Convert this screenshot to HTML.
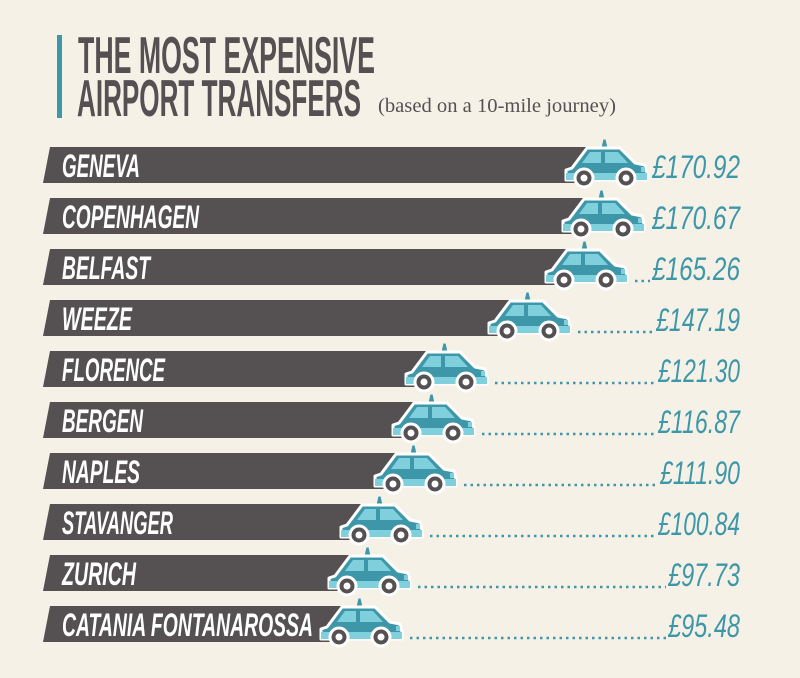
<!DOCTYPE html>
<html><head><meta charset="utf-8"><style>
html,body{margin:0;padding:0;background:#f5f1e7;}
svg{display:block}
</style></head><body>
<svg width="800" height="678" viewBox="0 0 800 678" xmlns="http://www.w3.org/2000/svg">
<defs>
<g id="car">
  <path d="M36,8 L38,-1 L41,-1 L43,8 Z" fill="#3e97a8" stroke="#f5f1e7" stroke-width="1"/>
  <path d="M7,28 L22,8 L55,8 L70,23 L80,25 L82,33 L82,40 L1,40 L1,30 Z" fill="#3e97a8" stroke="#fff" stroke-width="3" stroke-linejoin="round"/>
  <path d="M17,23 L25,12 L36,12 L36,23 Z" fill="#7fd0dc"/>
  <path d="M40,12 L53,12 L63,23 L40,23 Z" fill="#7fd0dc"/>
  <rect x="76" y="27" width="4" height="5" fill="#7fd0dc"/>
  <rect x="1" y="33" width="81" height="7" fill="#7fd0dc"/>
  <circle cx="19" cy="38" r="9" fill="#555052" stroke="#fff" stroke-width="3"/>
  <circle cx="19" cy="38" r="3.5" fill="#fff"/>
  <circle cx="61" cy="38" r="9" fill="#555052" stroke="#fff" stroke-width="3"/>
  <circle cx="61" cy="38" r="3.5" fill="#fff"/>
</g>
</defs>
<rect x="57" y="35" width="5" height="83" fill="#3e97a8"/>
<g font-family="'Liberation Sans', sans-serif" font-weight="bold" fill="#555052" font-size="52">
<text x="78" y="73" textLength="297" lengthAdjust="spacingAndGlyphs">THE MOST EXPENSIVE</text>
<text x="77" y="116" textLength="284" lengthAdjust="spacingAndGlyphs">AIRPORT TRANSFERS</text>
</g>
<text x="378" y="112" font-family="'Liberation Serif', serif" font-size="20" fill="#555052" textLength="238" lengthAdjust="spacingAndGlyphs">(based on a 10-mile journey)</text>

<g id="rows" font-family="'Liberation Sans', sans-serif" font-weight="bold" font-style="italic">
</g>
<script>
var rows=[
["GENEVA",78,565,"£170.92",88],
["COPENHAGEN",137,562,"£170.67",88],
["BELFAST",88,545,"£165.26",88],
["WEEZE",70,488,"£147.19",84],
["FLORENCE",103,405,"£121.30",82],
["BERGEN",81,392,"£116.87",82],
["NAPLES",78,374,"£111.90",80],
["STAVANGER",111,340,"£100.84",82],
["ZURICH",74,328,"£97.73",72],
["CATANIA FONTANAROSSA",251,320,"£95.48",72]
];
var ns="http://www.w3.org/2000/svg",g=document.getElementById("rows");
function el(t,a,txt){var e=document.createElementNS(ns,t);for(var k in a)e.setAttribute(k,a[k]);if(txt)e.textContent=txt;g.appendChild(e);return e;}
rows.forEach(function(r,i){
 var top=147+i*51,bot=top+36,be=r[2]+22;
 el("polygon",{points:"50,"+top+" "+be+","+top+" "+be+","+bot+" 43,"+bot,fill:"#555052"});
 el("text",{x:62,y:bot-6,"font-size":32,fill:"#fff",textLength:r[1],lengthAdjust:"spacingAndGlyphs"},r[0]);
 el("use",{href:"#car",x:r[2],y:top-7});
 var ps=740-r[4];
 var ds=r[2]+90;
 if(ps-ds>4) el("line",{x1:ds,y1:bot-4,x2:ps-2,y2:bot-4,stroke:"#3e97a8","stroke-width":2.5,"stroke-dasharray":"2.5 4"});
 el("text",{x:ps,y:bot-5,"font-size":32,fill:"#3e97a8","font-weight":"normal",textLength:r[4],lengthAdjust:"spacingAndGlyphs"},r[3]);
});
</script>
</svg>
</body></html>
